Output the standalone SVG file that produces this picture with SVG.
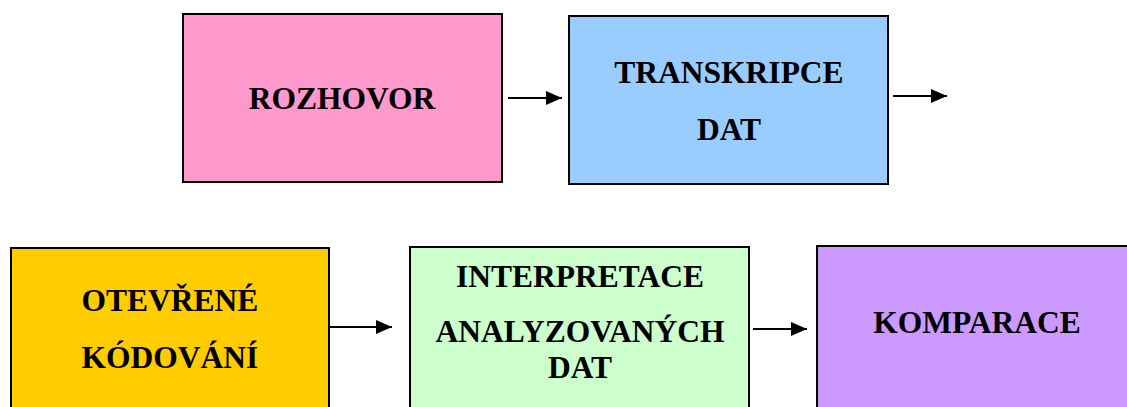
<svg xmlns="http://www.w3.org/2000/svg" width="1127" height="407" viewBox="0 0 1127 407">
  <style>
    .box { stroke: #000; stroke-width: 2; }
    .label { font-family: "Liberation Serif", "Times New Roman", serif; font-weight: bold; font-size: 31.5px; fill: #000; text-anchor: middle; }
    .conn { stroke: #000; stroke-width: 2; fill: none; marker-end: url(#arrow); }
  </style>
  <defs>
    <marker id="arrow" viewBox="0 0 16 14" refX="16" refY="7" markerWidth="16" markerHeight="14" markerUnits="userSpaceOnUse" orient="auto">
      <path d="M0,0 L16,7 L0,14 Z" fill="#000"/>
    </marker>
  </defs>
  <rect width="1127" height="407" fill="#fff"/>

  <g id="rozhovor">
    <rect class="box" x="183" y="14" width="319" height="168" fill="#FF99CC"/>
    <text class="label" x="342" y="109">ROZHOVOR</text>
  </g>

  <g id="transkripce">
    <rect class="box" x="569" y="16" width="319" height="168" fill="#99CCFF"/>
    <text class="label" x="729" y="83">TRANSKRIPCE</text>
    <text class="label" x="729" y="140">DAT</text>
  </g>

  <g id="otevrene-kodovani">
    <rect class="box" x="11" y="248" width="318" height="170" fill="#FFCC00"/>
    <text class="label" x="170" y="311">OTEVŘENÉ</text>
    <text class="label" x="170" y="368">KÓDOVÁNÍ</text>
  </g>

  <g id="interpretace">
    <rect class="box" x="410" y="247" width="339" height="170" fill="#CCFFCC"/>
    <text class="label" x="580" y="287">INTERPRETACE</text>
    <text class="label" x="580" y="342">ANALYZOVANÝCH</text>
    <text class="label" x="580" y="378">DAT</text>
  </g>

  <g id="komparace">
    <rect class="box" x="817" y="246" width="320" height="170" fill="#CC99FF"/>
    <text class="label" x="977" y="333">KOMPARACE</text>
  </g>

  <g id="connectors">
    <line class="conn" x1="508" y1="98" x2="562" y2="98"/>
    <line class="conn" x1="893" y1="96" x2="947" y2="96"/>
    <line class="conn" x1="329" y1="327" x2="392" y2="327"/>
    <line class="conn" x1="753" y1="329" x2="807" y2="329"/>
  </g>
</svg>
